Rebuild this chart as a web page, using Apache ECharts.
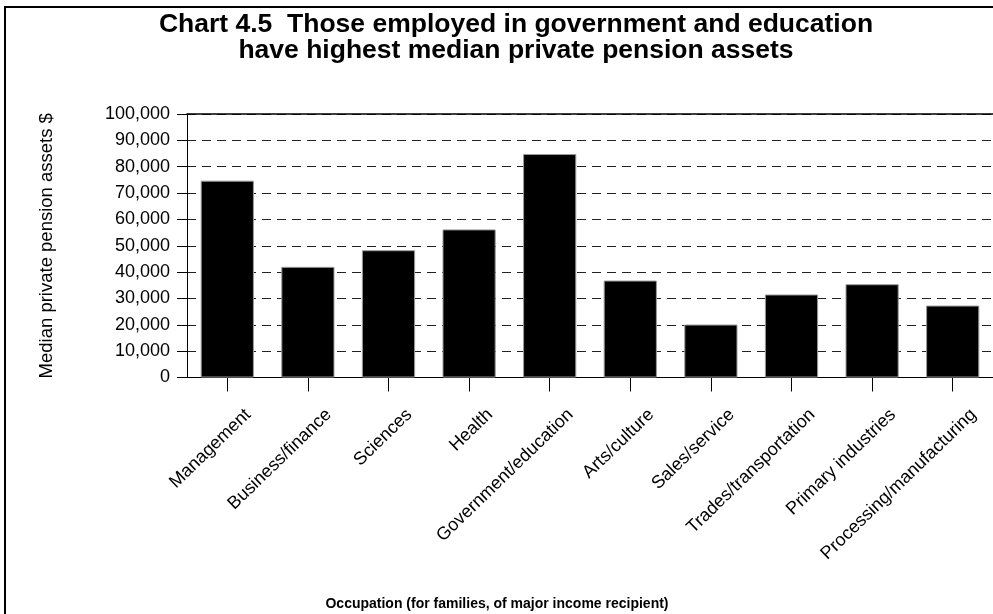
<!DOCTYPE html>
<html><head><meta charset="utf-8">
<script src="https://cdn.jsdelivr.net/npm/echarts@6/dist/echarts.min.js"></script>
<style>html,body{margin:0;padding:0;background:#fff}#c{width:993px;height:614px}</style>
</head><body><div id="c"></div>
<script>
var categories = ["Management","Business/finance","Sciences","Health","Government/education","Arts/culture","Sales/service","Trades/transportation","Primary industries","Processing/manufacturing"];
var values = [74700, 42000, 48300, 56200, 84800, 36800, 20100, 31500, 35400, 27300];
var yTicks = {min: 0, max: 100000, interval: 10000};
var titleLines = ["Chart 4.5  Those employed in government and education", "have highest median private pension assets"];
var yName = "Median private pension assets $";
var xName = "Occupation (for families, of major income recipient)";

var chart = echarts.init(document.getElementById('c'), null, {renderer: 'canvas'});
var font = "'Liberation Sans', Arial, sans-serif";
chart.setOption({
  animation: false,
  backgroundColor: '#fff',
  title: {
    text: titleLines.join('\n'),
    left: 511, top: 7, textAlign: 'center',
    textStyle: {fontFamily: font, fontSize: 26.5, fontWeight: 'bold', color: '#000', lineHeight: 26}
  },
  grid: {left: 187, top: 114, width: 810, height: 263.5, containLabel: false},
  xAxis: [{
    type: 'category', data: categories, position: 'bottom',
    axisLine: {show: true, lineStyle: {color: '#000', width: 1}},
    axisTick: {show: true, alignWithLabel: true, length: 14, lineStyle: {color: '#000'}},
    axisLabel: {rotate: 44, margin: 13, fontFamily: font, fontSize: 18, color: '#000', interval: 0,
      verticalAlign: 'top', align: 'right', padding: [21, 0, 0, 0]},
    splitLine: {show: false}
  }, {
    type: 'category', data: categories, position: 'top',
    axisLine: {show: true, lineStyle: {color: '#000', width: 1.5}},
    axisTick: {show: false}, axisLabel: {show: false}
  }],
  yAxis: {
    type: 'value', min: yTicks.min, max: yTicks.max, interval: yTicks.interval,
    name: yName, nameLocation: 'middle', nameGap: 131, nameRotate: 90,
    nameTextStyle: {fontFamily: font, fontSize: 18.5, color: '#000'},
    axisLine: {show: true, lineStyle: {color: '#000'}},
    axisTick: {show: true, length: 10, lineStyle: {color: '#000'}},
    axisLabel: {margin: 17, fontFamily: font, fontSize: 18, color: '#000',
      formatter: function (v) { return v.toLocaleString('en-US'); }},
    splitLine: {show: true, lineStyle: {color: '#222', type: [9, 6], width: 1}}
  },
  series: [{
    type: 'bar', data: values, barCategoryGap: '34%', xAxisIndex: 0,
    itemStyle: {color: '#000', borderColor: '#999', borderWidth: 1}
  }],
  graphic: [
    {type: 'rect', shape: {x: 5, y: 7, width: 1100, height: 700}, style: {fill: 'none', stroke: '#000', lineWidth: 2}, silent: true},
    {type: 'text', x: 497, y: 597, style: {text: xName, fontFamily: font, fontSize: 14, fontWeight: 'bold', fill: '#000', align: 'center', textAlign: 'center'}}
  ]
});
</script></body></html>
